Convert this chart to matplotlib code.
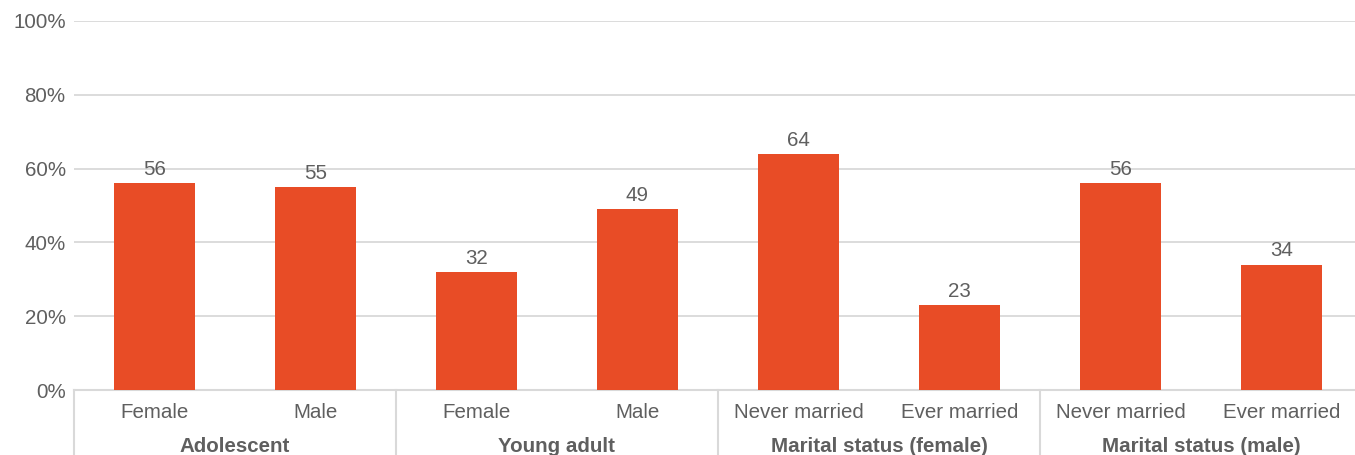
import numpy as np
import matplotlib.pyplot as plt
from matplotlib.transforms import blended_transform_factory

# share of respondents per subgroup (%)
categories = ["Female", "Male", "Female", "Male",
              "Never married", "Ever married", "Never married", "Ever married"]
values = [56, 55, 32, 49, 64, 23, 56, 34]
groups = ["Adolescent", "Young adult", "Marital status (female)", "Marital status (male)"]
group_sizes = [2, 2, 2, 2]
yticks = [0, 20, 40, 60, 80, 100]

BAR = "#E84C26"
TEXT = "#5f5f5f"
GRID = "#d9d9d9"
FS = 14.8

plt.rcParams['font.family'] = ['Liberation Sans', 'DejaVu Sans']

fig = plt.figure(figsize=(13.55, 4.55), dpi=100)
ax = fig.add_axes([74 / 1355, 65 / 455, 1288 / 1355, 369 / 455])

x = np.arange(len(values))
ax.bar(x, values, width=0.5, color=BAR, zorder=3)
ax.set_xlim(-0.5, len(values) - 0.5)
ax.set_ylim(0, 100)

ax.set_yticks(yticks)
ax.set_yticklabels([f"{t}%" for t in yticks], fontsize=FS, color=TEXT)
ax.tick_params(axis='y', length=0, pad=6)
ax.set_xticks([])
ax.grid(axis='y', color=GRID, linewidth=1.3, zorder=0)
for side in ['top', 'right', 'left']:
    ax.spines[side].set_visible(False)
ax.spines['bottom'].set_color(GRID)
ax.spines['bottom'].set_linewidth(1.5)

# value labels above bars
for xi, v in zip(x, values):
    ax.annotate(str(v), (xi, v), xytext=(0, 3), textcoords='offset points',
                ha='center', va='bottom', fontsize=FS, color=TEXT)

trans = blended_transform_factory(ax.transData, ax.transAxes)

# category labels
for xi, c in zip(x, categories):
    ax.annotate(c, (xi, 0), xycoords=trans, xytext=(0, -16.5), textcoords='offset points',
                ha='center', va='center', fontsize=FS, color=TEXT)

# group labels and separators
start = 0
bounds = [-0.5]
for g, n in zip(groups, group_sizes):
    mid = start + (n - 1) / 2
    ax.annotate(g, (mid, 0), xycoords=trans, xytext=(0, -41), textcoords='offset points',
                ha='center', va='center', fontsize=FS, color=TEXT, fontweight='bold')
    start += n
    bounds.append(start - 0.5)

for b in bounds[:-1]:
    ax.plot([b, b], [0, -0.3], transform=trans, color=GRID, linewidth=1.5, clip_on=False)

fig.savefig("out.png", dpi=100)
